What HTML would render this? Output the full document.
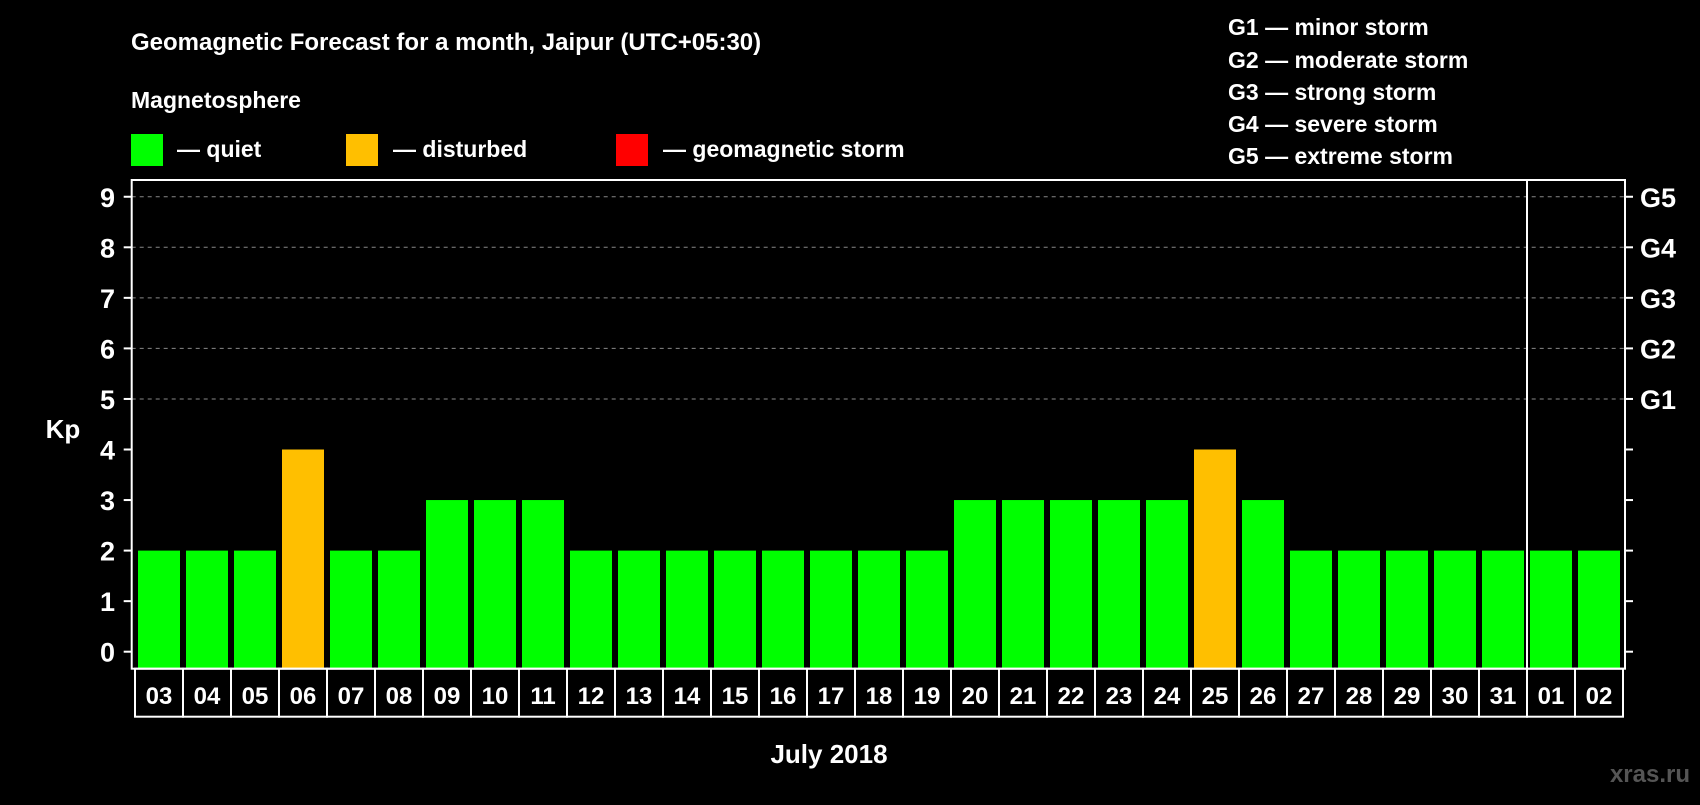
<!DOCTYPE html>
<html><head><meta charset="utf-8"><style>
body{margin:0;background:#000;width:1700px;height:800px;overflow:hidden}
text{font-family:"Liberation Sans",Arial,sans-serif;font-weight:bold;fill:#fff}
</style></head><body>
<svg id="chart" width="1700" height="800" xmlns="http://www.w3.org/2000/svg">
<rect width="1700" height="800" fill="#000"/>
<text x="131" y="50" font-size="24">Geomagnetic Forecast for a month, Jaipur (UTC+05:30)</text>
<text x="131" y="108" font-size="23">Magnetosphere</text>
<g><rect x="131" y="134" width="32" height="32" fill="#00ff00"/><text x="177" y="157" font-size="23">— quiet</text></g>
<g><rect x="346" y="134" width="32" height="32" fill="#ffbf00"/><text x="393" y="157" font-size="23">— disturbed</text></g>
<g><rect x="616" y="134" width="32" height="32" fill="#ff0000"/><text x="663" y="157" font-size="23">— geomagnetic storm</text></g>
<g font-size="23">
<text x="1228" y="35" font-size="23">G1 — minor storm</text>
<text x="1228" y="68" font-size="23">G2 — moderate storm</text>
<text x="1228" y="100" font-size="23">G3 — strong storm</text>
<text x="1228" y="132" font-size="23">G4 — severe storm</text>
<text x="1228" y="164" font-size="23">G5 — extreme storm</text>
</g>
<text x="63" y="438" font-size="26" text-anchor="middle">Kp</text>
<text x="829" y="763" font-size="26" text-anchor="middle">July 2018</text>
<text x="1690" y="782" font-size="24" text-anchor="end" style="fill:#555">xras.ru</text>
<g id="grid"></g><g id="bars"></g><g id="labels"></g><g id="axes"></g>
</svg>
<script>
const days=["03","04","05","06","07","08","09","10","11","12","13","14","15","16","17","18","19","20","21","22","23","24","25","26","27","28","29","30","31","01","02"];
const kp=[2,2,2,4,2,2,3,3,3,2,2,2,2,2,2,2,2,3,3,3,3,3,4,3,2,2,2,2,2,2,2];
const yTicks=[0,1,2,3,4,5,6,7,8,9];
const gLevels=["G1","G2","G3","G4","G5"];
const NS="http://www.w3.org/2000/svg";
const L=131.7,R=1625,T=180,B=668.7,X0=135,P=48;
function y(v){return 651.7-50.55*v;}
function x(i){return X0+P*i;}
function mk(tag,attrs,parent){const e=document.createElementNS(NS,tag);for(const k in attrs)e.setAttribute(k,attrs[k]);document.getElementById(parent).appendChild(e);return e;}
yTicks.forEach(v=>{
  if(v>=5){const g=mk('line',{x1:L,x2:R,y1:y(v),y2:y(v),stroke:'#888','stroke-dasharray':'4,4','stroke-width':1},'grid');
  
  }
  const t1=mk('line',{x1:L-8,x2:L,y1:y(v),y2:y(v),stroke:'#fff','stroke-width':2},'axes');
  
  
  const t2=mk('line',{x1:R,x2:R+8,y1:y(v),y2:y(v),stroke:'#fff','stroke-width':2},'axes');
  
  
  const lb=mk('text',{x:115,y:y(v)+10,'font-size':27,'text-anchor':'end'},'axes');lb.textContent=v;
  
  
  if(v>=5){const g=mk('text',{x:1640,y:y(v)+10,'font-size':27},'axes');g.textContent=gLevels[v-5];
  
  }
});
days.forEach((d,i)=>{
  const v=kp[i];
  const b=mk('rect',{x:x(i)+3,y:y(v),width:42,height:B-y(v),fill:v>=5?'#ff0000':(v>=4?'#ffbf00':'#00ff00')},'bars');
  
  
  const bx=mk('rect',{x:x(i),y:B,width:P,height:48,fill:'none',stroke:'#fff','stroke-width':2},'labels');
  
  
  const t=mk('text',{x:x(i)+P/2,y:704,'font-size':24,'text-anchor':'middle'},'labels');t.textContent=d;
  
  
});
const fr=mk('rect',{x:L,y:T,width:R-L,height:B-T,fill:'none',stroke:'#fff','stroke-width':2},'axes');


const sep=mk('line',{x1:x(29),x2:x(29),y1:T,y2:B+48,stroke:'#fff','stroke-width':2},'axes');


</script>
</body></html>
